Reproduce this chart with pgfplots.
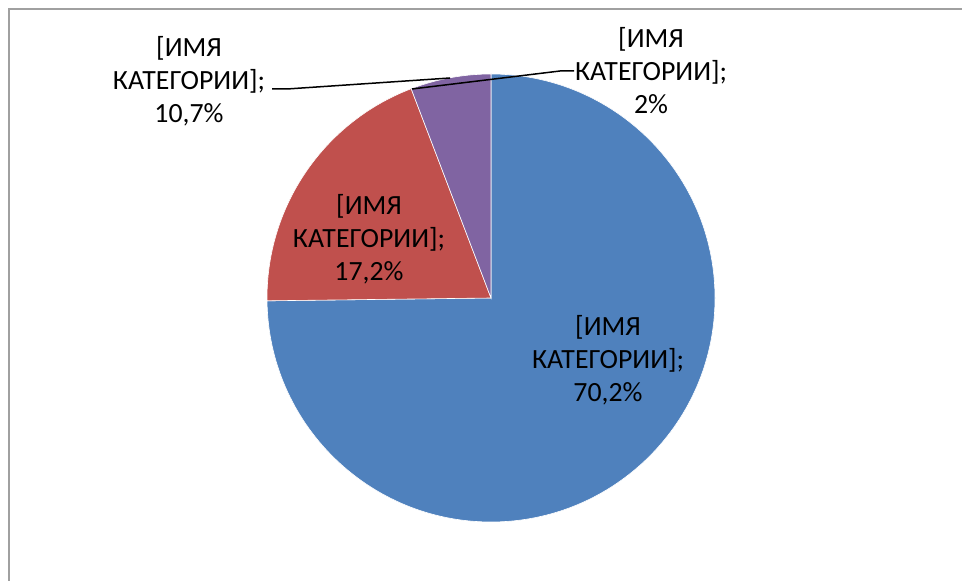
\documentclass[border=0pt]{standalone}
\usepackage{fontspec}
\setmainfont{Carlito}
\usepackage{pgfplots}
\usepackage{pgfplotstable}
\pgfplotsset{compat=1.18}
\definecolor{cblue}{HTML}{4F81BD}
\definecolor{cred}{HTML}{C0504D}
\definecolor{cpurple}{HTML}{8064A2}
\definecolor{cframe}{HTML}{A0A0A0}

% share of the circle each slice covers (as drawn), and the value shown in its label
\pgfplotstableread{
share shown
74.8 70.2
19.4 17.2
5.8 10.7
}\slices

\pgfplotstablegetelem{0}{share}\of\slices \let\sA\pgfplotsretval
\pgfplotstablegetelem{1}{share}\of\slices \let\sB\pgfplotsretval
\pgfplotstablegetelem{2}{share}\of\slices \let\sC\pgfplotsretval
\pgfmathsetmacro\aA{90}
\pgfmathsetmacro\aB{90-3.6*\sA}
\pgfmathsetmacro\aC{\aB-3.6*\sB}
\pgfmathsetmacro\aD{\aC-3.6*\sC}

\newcommand\lbl{\fontsize{27.8bp}{33bp}\selectfont}

\begin{document}
\begin{tikzpicture}
\begin{axis}[
  scale only axis, width=962bp, height=581bp,
  xmin=0, xmax=962, ymin=0, ymax=581,
  hide axis, clip=true,
]
\path (rel axis cs:0,0) rectangle (rel axis cs:1,1);
% frame
\draw[cframe, line width=2bp] (axis cs:9,0) -- (axis cs:9,572) -- (axis cs:962,572);
% slices
\fill[cblue, draw=white, line width=0.6bp] (axis cs:491,283) -- ++(\aA:224bp)
   arc[start angle=\aA, end angle=\aB, radius=224bp] -- cycle;
\fill[cred, draw=white, line width=0.6bp] (axis cs:491,283) -- ++(\aB:224bp)
   arc[start angle=\aB, end angle=\aC, radius=224bp] -- cycle;
\fill[cpurple, draw=white, line width=0.6bp] (axis cs:491,283) -- ++(\aC:224bp)
   arc[start angle=\aC, end angle=\aD, radius=224bp] -- cycle;
% leader lines
\draw[black, line width=1.5bp] (axis cs:272,492) -- (axis cs:287,492) -- (axis cs:450,503);
\draw[black, line width=1.5bp] (axis cs:412,492) -- (axis cs:560,510) -- (axis cs:574,510);
% labels
\node[align=center, inner sep=0pt, font=\lbl] at (axis cs:189,500) {[ИМЯ\\КАТЕГОРИИ];\\10,7\%};
\node[align=center, inner sep=0pt, font=\lbl] at (axis cs:651,510) {[ИМЯ\\КАТЕГОРИИ];\\2\%};
\node[align=center, inner sep=0pt, font=\lbl] at (axis cs:369,342) {[ИМЯ\\КАТЕГОРИИ];\\17,2\%};
\node[align=center, inner sep=0pt, font=\lbl] at (axis cs:608,221) {[ИМЯ\\КАТЕГОРИИ];\\70,2\%};
\end{axis}
\end{tikzpicture}
\end{document}
